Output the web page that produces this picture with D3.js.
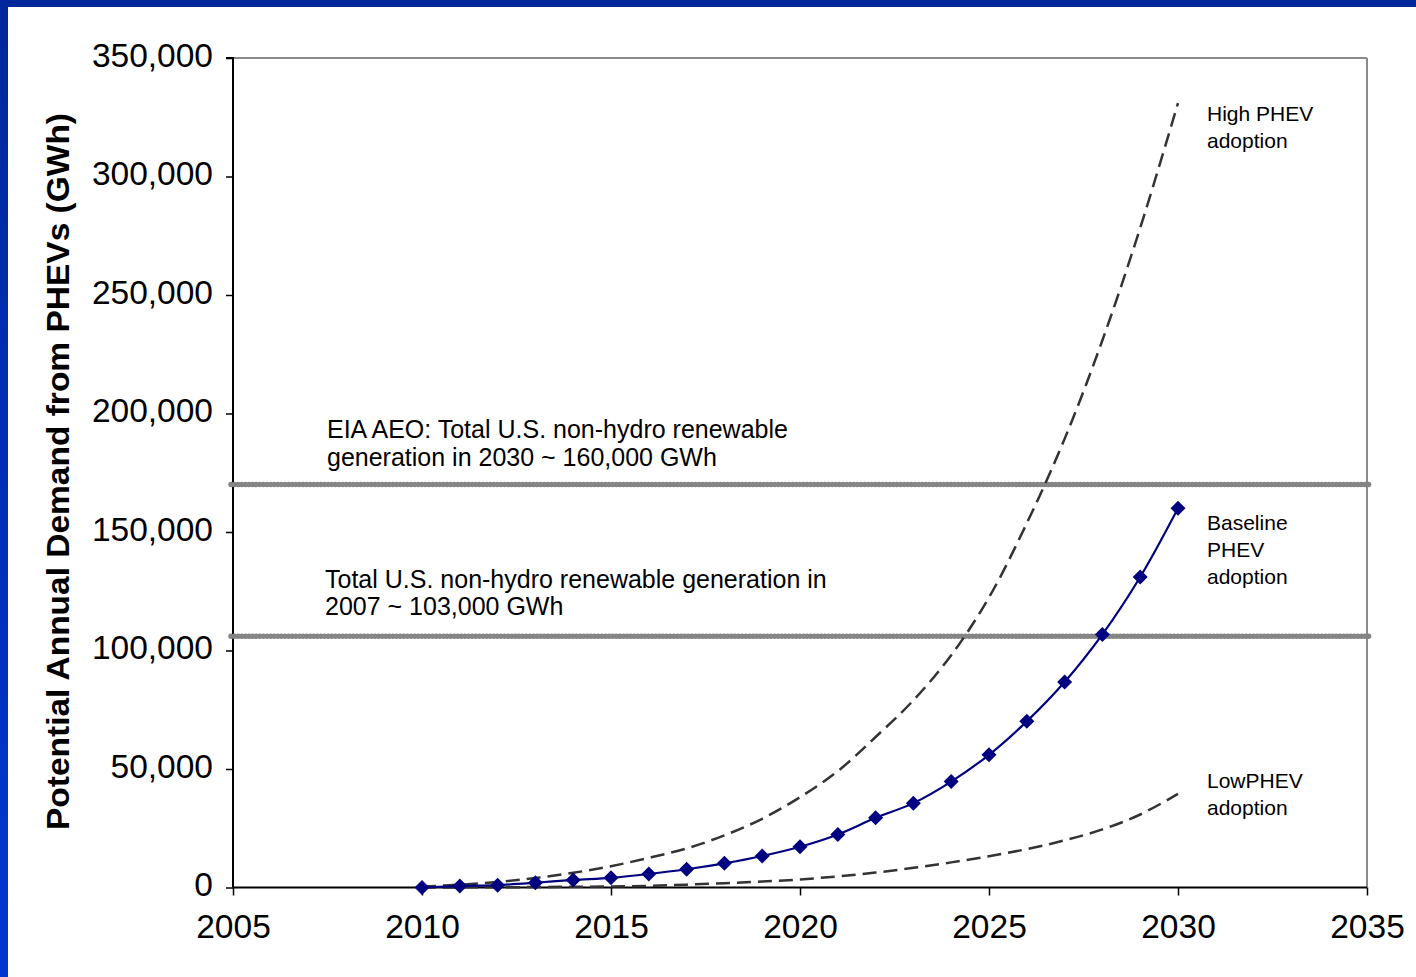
<!DOCTYPE html>
<html>
<head>
<meta charset="utf-8">
<script src="https://cdn.jsdelivr.net/npm/d3@7"></script>
<style>
  html, body { margin: 0; padding: 0; background: #fff; }
  svg { display: block; }
  text { font-family: "Liberation Sans", Arial, sans-serif; fill: #000; }
</style>
</head>
<body>
<svg id="chart" width="1416" height="977"></svg>
<script>
// ---- data ----
const years = d3.range(2010, 2031);
const baseline = [0, 600, 1000, 2000, 3200, 4100, 5700, 7700, 10200, 13300, 17200,
                  22400, 29400, 35600, 44700, 56000, 70100, 86700, 106800, 131000, 160000];
const highPHEV = [400, 1200, 2300, 4000, 6200, 9000, 12500, 16500, 22000, 29000, 38100,
                  49100, 63500, 79000, 98000, 122400, 153700, 189300, 230900, 278300, 331000];
const lowPHEV  = [0, 50, 100, 200, 300, 450, 700, 1200, 1800, 2500, 3400,
                  4700, 6300, 8300, 10600, 13200, 16200, 19900, 24500, 30800, 39500];
const refLines = [170000, 106000];
const xTicks = [2005, 2010, 2015, 2020, 2025, 2030, 2035];
const yTicks = [0, 50000, 100000, 150000, 200000, 250000, 300000, 350000];
const yTitle = "Potential Annual Demand from PHEVs (GWh)";
const refNotes = [
  ["EIA AEO: Total U.S. non-hydro renewable", "generation in 2030 ~ 160,000 GWh"],
  ["Total U.S. non-hydro renewable generation in", "2007 ~ 103,000 GWh"]
];
const seriesLabels = [
  ["High PHEV", "adoption"],
  ["Baseline", "PHEV", "adoption"],
  ["LowPHEV", "adoption"]
];

// ---- layout ----
const svg = d3.select("#chart");
const L = 233, R = 1367, T = 58, B = 887.5;
const x = d3.scaleLinear().domain([2005, 2035]).range([L, R]);
const y = d3.scaleLinear().domain([0, 350000]).range([B, T]);

// slide frame
const defs = svg.append("defs");
const g1 = defs.append("linearGradient").attr("id", "lg").attr("x1", 0).attr("y1", 0).attr("x2", 0).attr("y2", 1);
g1.append("stop").attr("offset", "0%").attr("stop-color", "#00289C");
g1.append("stop").attr("offset", "100%").attr("stop-color", "#0036D2");
svg.append("rect").attr("x", 0).attr("y", 0).attr("width", 8).attr("height", 977).attr("fill", "url(#lg)");
svg.append("rect").attr("x", 0).attr("y", 0).attr("width", 1416).attr("height", 7).attr("fill", "#00289C");

// plot frame (top & right gray)
svg.append("line").attr("x1", L).attr("x2", R).attr("y1", T).attr("y2", T).attr("stroke", "#8a8a8a").attr("stroke-width", 2);
svg.append("line").attr("x1", R).attr("x2", R).attr("y1", T).attr("y2", B).attr("stroke", "#8a8a8a").attr("stroke-width", 2);

// axes
const yAxis = svg.append("g").attr("transform", `translate(${L},0)`)
  .call(d3.axisLeft(y).tickValues(yTicks).tickSize(7).tickPadding(13).tickFormat(d3.format(",")));
const xAxis = svg.append("g").attr("transform", `translate(0,${B})`)
  .call(d3.axisBottom(x).tickValues(xTicks).tickSize(8).tickPadding(19).tickFormat(d3.format("d")));
[yAxis, xAxis].forEach(a => {
  a.select(".domain").attr("stroke", "#000").attr("stroke-width", 2);
  a.selectAll(".tick line").attr("stroke", "#000").attr("stroke-width", 1.5);
  a.selectAll(".tick text").style("font-size", "33.5px").style("font-family", "Liberation Sans, Arial, sans-serif").attr("fill", "#000");
});
yAxis.selectAll(".tick text").attr("dy", "0.25em");
yAxis.select(".domain").attr("d", `M-7,${T}H0V${B}`);
xAxis.select(".domain").attr("d", `M${L},0H${R}`);

// y title
svg.append("text")
  .attr("transform", `translate(69,${(113 + 830) / 2}) rotate(-90)`)
  .attr("text-anchor", "middle")
  .attr("textLength", 717).attr("lengthAdjust", "spacingAndGlyphs")
  .style("font-size", "31px").style("font-weight", "bold")
  .text(yTitle);

// reference lines (gray dotted)
refLines.forEach(v => {
  svg.append("line").attr("x1", 230).attr("x2", 1371).attr("y1", y(v)).attr("y2", y(v))
    .attr("stroke", "#a0a0a0").attr("stroke-width", 3);
  svg.append("line").attr("x1", 231).attr("x2", 1370).attr("y1", y(v)).attr("y2", y(v))
    .attr("stroke", "#858585").attr("stroke-width", 5.5).attr("stroke-linecap", "round")
    .attr("stroke-dasharray", "0 3.6");
});

// reference notes
const noteY = [[429, 457], [579, 606]];
const noteX = [327, 325];
refNotes.forEach((lines, i) => {
  lines.forEach((t, j) => {
    svg.append("text").attr("x", noteX[i]).attr("y", noteY[i][j]).attr("dy", "0.35em")
      .style("font-size", "25px").text(t);
  });
});

// series lines
const line = d3.line().x((d, i) => x(years[i])).y(d => y(d)).curve(d3.curveCatmullRom.alpha(0.5));
svg.append("path").datum(highPHEV).attr("d", line).attr("fill", "none")
  .attr("stroke", "#333").attr("stroke-width", 2.5).attr("stroke-dasharray", "14 7");
svg.append("path").datum(lowPHEV).attr("d", line).attr("fill", "none")
  .attr("stroke", "#333").attr("stroke-width", 2.5).attr("stroke-dasharray", "14 7");
svg.append("path").datum(baseline).attr("d", line).attr("fill", "none")
  .attr("stroke", "#000080").attr("stroke-width", 2.2);
const dm = 7.5;
svg.append("g").selectAll("path").data(baseline).join("path")
  .attr("transform", (d, i) => `translate(${x(years[i])},${y(d)})`)
  .attr("d", `M0,${-dm}L${dm},0L0,${dm}L${-dm},0Z`)
  .attr("fill", "#000080");

// series labels
const labelTop = [114, 523, 781];
seriesLabels.forEach((lines, i) => {
  lines.forEach((t, j) => {
    svg.append("text").attr("x", 1207).attr("y", labelTop[i] + j * 27).attr("dy", "0.35em")
      .style("font-size", "21px").text(t);
  });
});
</script>
</body>
</html>
